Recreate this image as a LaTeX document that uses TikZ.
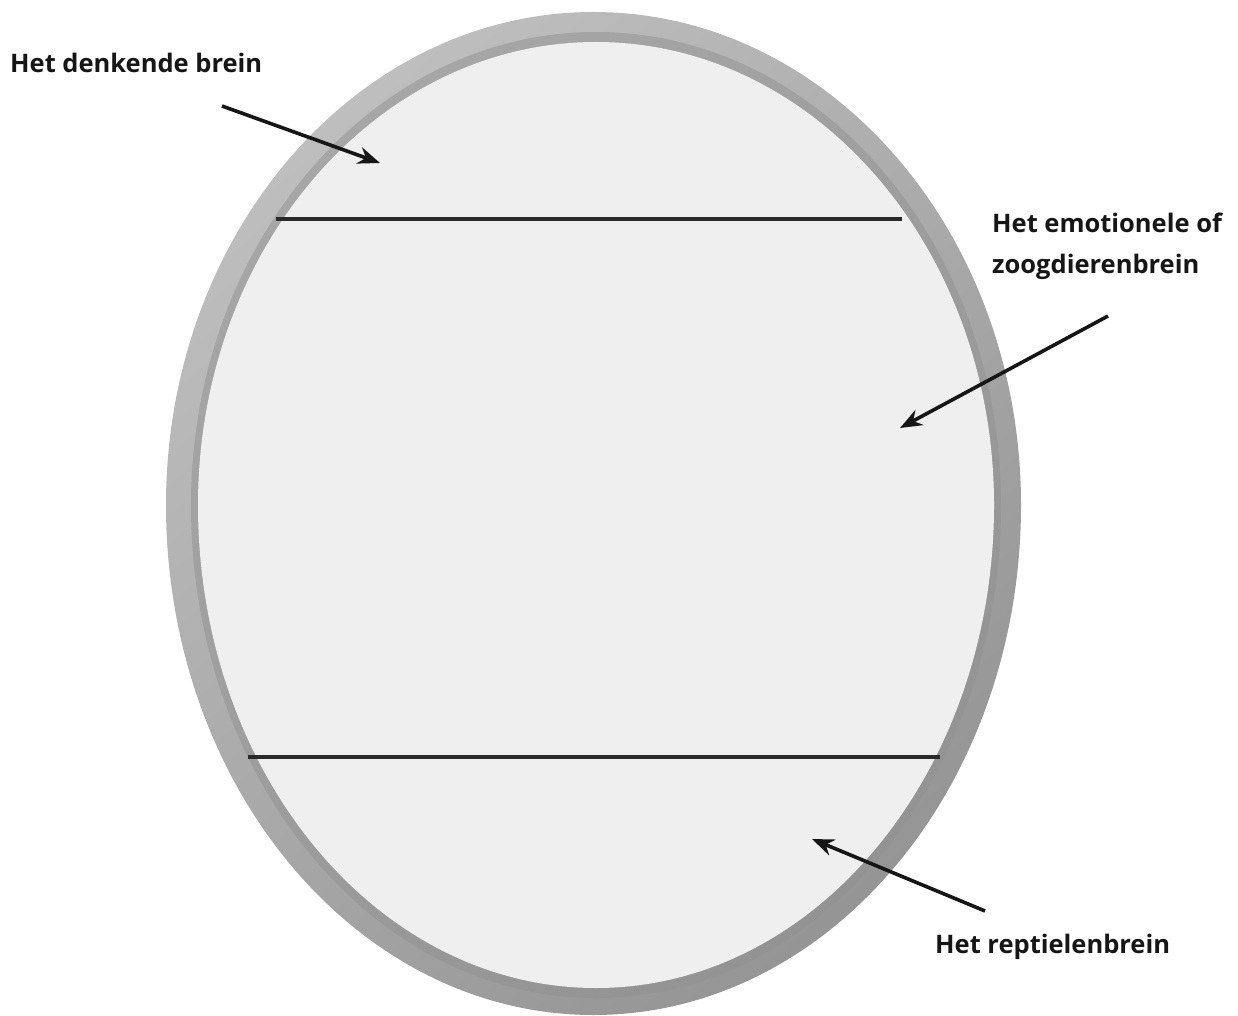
\documentclass[tikz,border=0pt]{standalone}
\usepackage{fontspec}
\setmainfont{Open Sans}
\usetikzlibrary{arrows.meta}
\definecolor{txt}{HTML}{161616}
\definecolor{divcol}{HTML}{2A2A2A}
\definecolor{ringlight}{HTML}{BEBEBE}
\definecolor{ringdark}{HTML}{959595}
\definecolor{striplight}{HTML}{A6A6A6}
\definecolor{stripdark}{HTML}{939393}
\definecolor{inside}{HTML}{EFEFEF}
\begin{document}
\begin{tikzpicture}[x=1pt,y=-1pt,
  egg/.style n args={5}{insert path={(#1-#3,#2) arc[start angle=180,end angle=0,x radius=#3 pt,y radius=#4 pt] arc[start angle=0,end angle=-180,x radius=#3 pt,y radius=#5 pt] -- cycle}},
  lbl/.style={font=\bfseries\fontsize{25.5}{40}\selectfont, text=txt, inner sep=0pt, anchor=base west},
  pointer/.style={draw=txt, line width=3.6pt, -{Stealth[length=22pt,width=17pt]}},
  divider/.style={draw=divcol, line width=3.4pt}]
\useasboundingbox (0,0) rectangle (1238,1016);
% ring
\shade[shading=axis, top color=ringlight, bottom color=ringdark, shading angle=40, egg={593.5}{505}{427.5}{493}{510}];
\shade[shading=axis, top color=striplight, bottom color=stripdark, shading angle=40, egg={596}{505}{405}{473}{493}];
\fill[inside, egg={596}{505}{398}{463}{483}];
% dividers
\coordinate (d1a) at (276,219);
\coordinate (d1b) at (902,219);
\coordinate (d2a) at (248,757);
\coordinate (d2b) at (940,757);
\draw[divider] (d1a) -- (d1b);
\draw[divider] (d2a) -- (d2b);
% labels
\node[lbl] (think) at (10,73) {Het denkende brein};
\node[lbl] (emo1) at (992,233) {Het emotionele of};
\node[lbl] (emo2) at (992,273) {zoogdierenbrein};
\node[lbl] (rept) at (935,953) {Het reptielenbrein};
% arrows
\coordinate (a1s) at (222,106);
\coordinate (a1e) at (380,163);
\coordinate (a2s) at (1108,316);
\coordinate (a2e) at (900,428);
\coordinate (a3s) at (985,911);
\coordinate (a3e) at (812,839);
\draw[pointer] (a1s) -- (a1e);
\draw[pointer] (a2s) -- (a2e);
\draw[pointer] (a3s) -- (a3e);
\end{tikzpicture}
\end{document}
